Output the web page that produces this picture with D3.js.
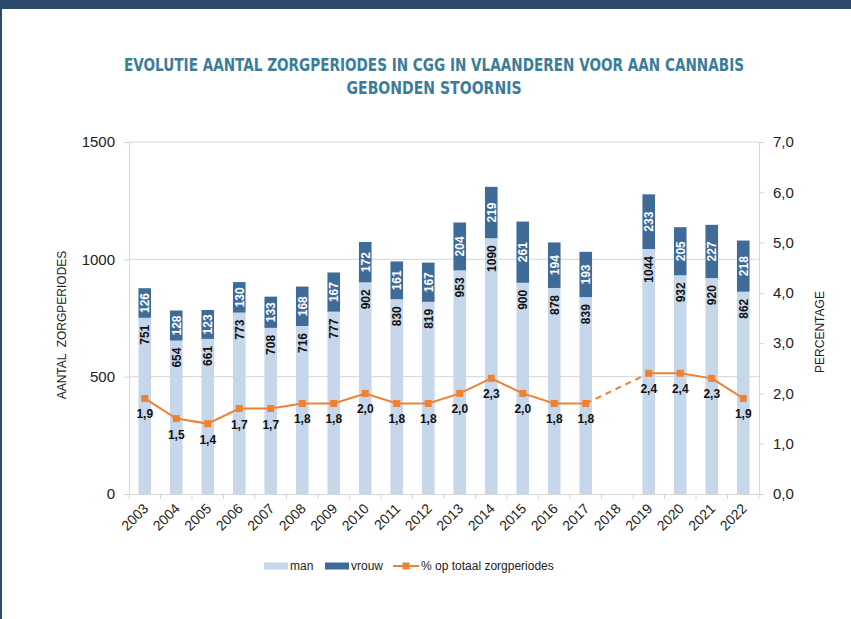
<!DOCTYPE html>
<html>
<head>
<meta charset="utf-8">
<script src="https://cdn.jsdelivr.net/npm/d3@7"></script>
<style>
  html, body { margin: 0; padding: 0; background: #fff; }
  svg { display: block; font-family: "Liberation Sans", Arial, sans-serif; }
</style>
</head>
<body>
<div id="chart"></div>
<script>
let years = ['2003', '2004', '2005', '2006', '2007', '2008', '2009', '2010', '2011', '2012',
  '2013', '2014', '2015', '2016', '2017', '2018', '2019', '2020', '2021', '2022'];
let man = [751, 654, 661, 773, 708, 716, 777, 902, 830, 819, 953, 1090, 900, 878, 839, null, 1044, 932, 920, 862];
let vrouw = [126, 128, 123, 130, 133, 168, 167, 172, 161, 167, 204, 219, 261, 194, 193, null, 233, 205, 227, 218];
let pct = [1.9, 1.5, 1.4, 1.7, 1.7, 1.8, 1.8, 2.0, 1.8, 1.8, 2.0, 2.3, 2.0, 1.8, 1.8, null, 2.4, 2.4, 2.3, 1.9];
let leftTicks = [0, 500, 1000, 1500];
let rightTicks = [0, 1, 2, 3, 4, 5, 6, 7];
let seriesNames = ['man', 'vrouw', '% op totaal zorgperiodes'];

let width = 851, height = 619;
let light = '#c6d7ec', dark = '#3e6b98', orange = '#ee8232', grid = '#d6d6d6';
let comma = v => d3.format('.1f')(v).replace('.', ',');

let svg = d3.select('#chart').append('svg')
  .attr('width', width)
  .attr('height', height);

// frame
svg.append('rect').attr('x', 0).attr('y', 0).attr('width', width).attr('height', 9).attr('fill', '#2b4a6e');
svg.append('rect').attr('x', 0).attr('y', 0).attr('width', 2).attr('height', height).attr('fill', '#2b4a6e');

let title = svg.append('g')
  .attr('text-anchor', 'middle')
  .attr('fill', '#3b7d99')
  .style('font-family', '"Liberation Sans Narrow", "DejaVu Sans Condensed", sans-serif')
  .style('font-weight', 'bold')
  .style('font-size', '17px');
title.append('text').attr('x', 434).attr('y', 71)
  .attr('textLength', 620).attr('lengthAdjust', 'spacingAndGlyphs')
  .text('EVOLUTIE AANTAL ZORGPERIODES IN CGG IN VLAANDEREN VOOR AAN CANNABIS');
title.append('text').attr('x', 434).attr('y', 94)
  .attr('textLength', 175).attr('lengthAdjust', 'spacingAndGlyphs')
  .text('GEBONDEN STOORNIS');

let x = d3.scaleBand().domain(years).range([129, 759]).paddingInner(0.6).paddingOuter(0.3);
let y = d3.scaleLinear().domain([0, 1500]).range([494, 142]);
let y2 = d3.scaleLinear().domain([0, 7]).range([494, 142]);

// gridlines
svg.append('g').selectAll('line')
  .data(leftTicks.slice(1))
  .enter().append('line')
    .attr('x1', 129).attr('x2', 759)
    .attr('y1', d => y(d)).attr('y2', d => y(d))
    .attr('stroke', grid);

// left axis
let gl = svg.append('g')
  .attr('transform', 'translate(129,0)')
  .call(d3.axisLeft(y).tickValues(leftTicks).tickSize(5).tickPadding(9).tickFormat(d3.format('d')));
gl.select('.domain').attr('stroke', grid);
gl.selectAll('.tick line').attr('stroke', grid);
gl.selectAll('text').style('font-size', '15px').attr('fill', '#222');

// right axis
let gr = svg.append('g')
  .attr('transform', 'translate(759,0)')
  .call(d3.axisRight(y2).tickValues(rightTicks).tickSize(5).tickPadding(9).tickFormat(comma));
gr.select('.domain').attr('stroke', grid);
gr.selectAll('.tick line').attr('stroke', grid);
gr.selectAll('text').style('font-size', '15px').attr('fill', '#222');

// bottom axis
let gb = svg.append('g')
  .attr('transform', 'translate(0,494)')
  .call(d3.axisBottom(x).tickSize(0).tickPadding(0));
gb.select('.domain').attr('stroke', grid);
gb.selectAll('text')
  .style('font-size', '14px')
  .attr('fill', '#222')
  .attr('text-anchor', 'end')
  .attr('dy', '0.35em')
  .attr('transform', 'translate(1,12) rotate(-45)');
let step = x.step();
let edges = years.map(d => x(d) + x.bandwidth() / 2 - step / 2).concat([759]);
gb.selectAll('.sep')
  .data(edges)
  .enter().append('line')
    .attr('class', 'sep')
    .attr('x1', d => d).attr('x2', d => d)
    .attr('y1', 0).attr('y2', 5)
    .attr('stroke', grid);

// axis titles
svg.append('text')
  .attr('transform', 'translate(66,325) rotate(-90)')
  .attr('text-anchor', 'middle')
  .style('font-size', '12px')
  .style('white-space', 'pre')
  .attr('fill', '#222')
  .text('AANTAL  ZORGPERIODES');
svg.append('text')
  .attr('transform', 'translate(824,332) rotate(-90)')
  .attr('text-anchor', 'middle')
  .style('font-size', '12px')
  .attr('fill', '#222')
  .text('PERCENTAGE');

// bars
let rows = years.map((d, i) => ({ year: d, man: man[i], vrouw: vrouw[i], pct: pct[i] }));
let barRows = rows.filter(d => d.man !== null);

let bars = svg.append('g').selectAll('g')
  .data(barRows)
  .enter().append('g');
bars.append('rect')
  .attr('x', d => x(d.year))
  .attr('width', x.bandwidth())
  .attr('y', d => y(d.man))
  .attr('height', d => y(0) - y(d.man))
  .attr('fill', light);
bars.append('rect')
  .attr('x', d => x(d.year))
  .attr('width', x.bandwidth())
  .attr('y', d => y(d.man + d.vrouw))
  .attr('height', d => y(d.man) - y(d.man + d.vrouw))
  .attr('fill', dark);
bars.append('text')
  .attr('transform', d => 'translate(' + (x(d.year) + x.bandwidth() / 2) + ',' + (y(d.man) + 7) + ') rotate(-90)')
  .attr('text-anchor', 'end')
  .attr('dy', '0.36em')
  .style('font-size', '12px')
  .style('font-weight', 'bold')
  .attr('fill', '#111')
  .text(d => d.man);
bars.append('text')
  .attr('transform', d => 'translate(' + (x(d.year) + x.bandwidth() / 2) + ',' + y(d.man + d.vrouw / 2) + ') rotate(-90)')
  .attr('text-anchor', 'middle')
  .attr('dy', '0.36em')
  .style('font-size', '12px')
  .style('font-weight', 'bold')
  .attr('fill', '#fff')
  .text(d => d.vrouw);

// percentage line
let cx = d => x(d.year) + x.bandwidth() / 2;
let line = d3.line()
  .defined(d => d.pct !== null)
  .x(cx)
  .y(d => y2(d.pct));
svg.append('path')
  .datum(rows)
  .attr('d', line)
  .attr('fill', 'none')
  .attr('stroke', orange)
  .attr('stroke-width', 2);

let gaps = [];
rows.forEach((d, i) => {
  if (d.pct === null && i > 0 && i < rows.length - 1) gaps.push([rows[i - 1], rows[i + 1]]);
});
svg.append('g').selectAll('path')
  .data(gaps)
  .enter().append('path')
    .attr('d', d3.line().x(cx).y(d => y2(d.pct)))
    .attr('fill', 'none')
    .attr('stroke', orange)
    .attr('stroke-width', 2)
    .attr('stroke-dasharray', '6,5');

let pts = rows.filter(d => d.pct !== null);
svg.append('g').selectAll('rect')
  .data(pts)
  .enter().append('rect')
    .attr('x', d => cx(d) - 3.5)
    .attr('y', d => y2(d.pct) - 3.5)
    .attr('width', 7)
    .attr('height', 7)
    .attr('fill', orange);
svg.append('g').selectAll('text')
  .data(pts)
  .enter().append('text')
    .attr('x', cx)
    .attr('y', d => y2(d.pct) + 20)
    .attr('text-anchor', 'middle')
    .style('font-size', '12px')
    .style('font-weight', 'bold')
    .attr('fill', '#111')
    .text(d => comma(d.pct));

// legend
let lg = svg.append('g').attr('transform', 'translate(0,566)');
lg.append('rect').attr('x', 264).attr('y', -3.5).attr('width', 24).attr('height', 7).attr('fill', light);
lg.append('rect').attr('x', 325).attr('y', -3.5).attr('width', 24).attr('height', 7).attr('fill', dark);
lg.append('line').attr('x1', 393).attr('x2', 419).attr('y1', 0).attr('y2', 0).attr('stroke', orange).attr('stroke-width', 2);
lg.append('rect').attr('x', 402.5).attr('y', -3.5).attr('width', 7).attr('height', 7).attr('fill', orange);
lg.selectAll('text')
  .data(seriesNames)
  .enter().append('text')
    .attr('x', (d, i) => [290, 351, 421][i])
    .attr('dy', '0.35em')
    .style('font-size', '12px')
    .attr('fill', '#222')
    .text(d => d);
</script>
</body>
</html>
